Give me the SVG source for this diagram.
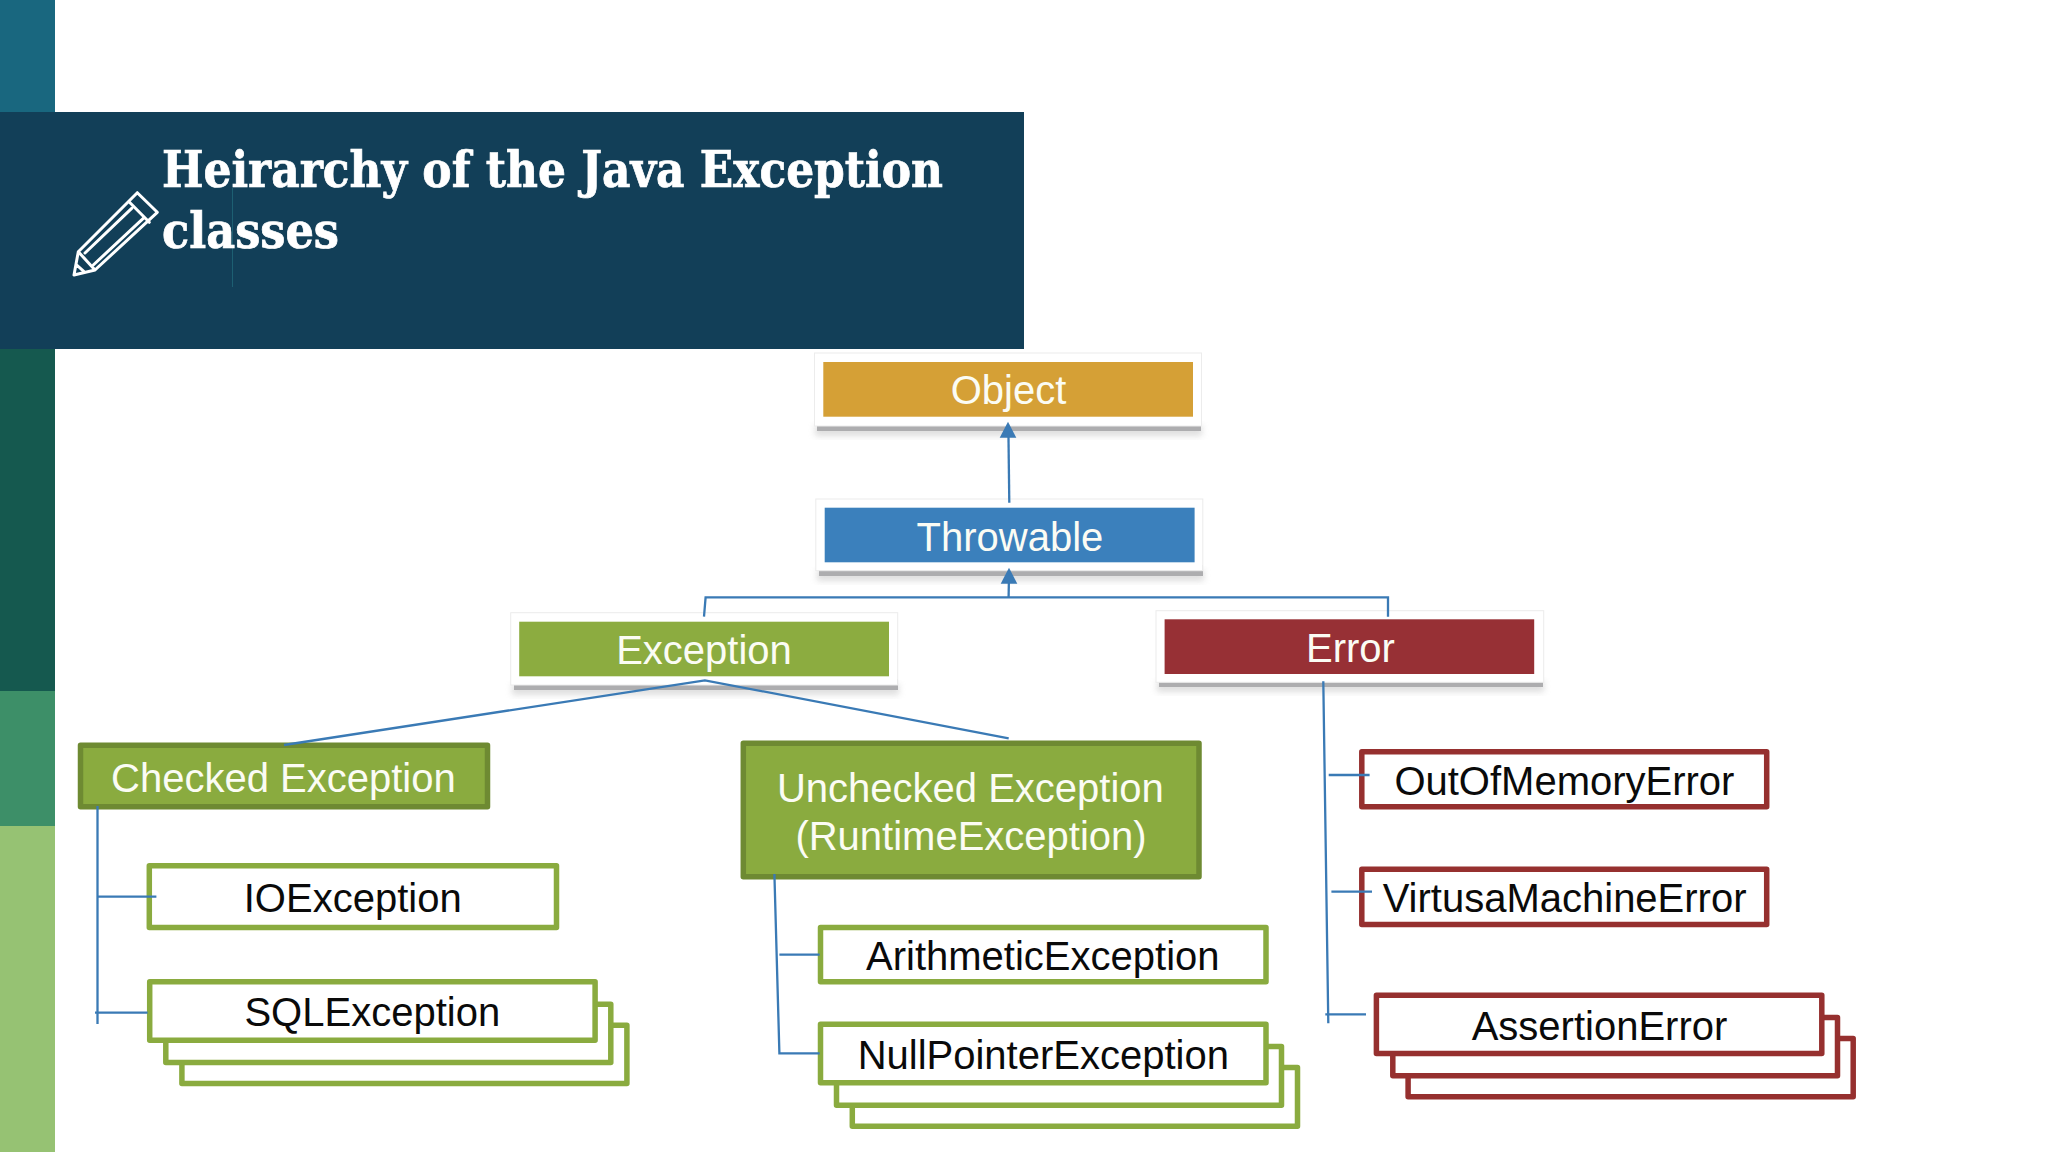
<svg xmlns="http://www.w3.org/2000/svg" width="2048" height="1152" viewBox="0 0 2048 1152">
<style>
.lbl{font-family:"Liberation Sans",Arial,sans-serif;font-size:40px;text-anchor:middle}
.w{fill:#fbfcf4}
.k{fill:#0a0a0a}
.title{font-family:"DejaVu Serif Condensed","DejaVu Serif",serif;font-weight:700;font-size:50px;fill:#fff;stroke:#fff;stroke-width:.7}
.card{fill:#fff;stroke:#ececec;stroke-width:1}
.sh{fill:#adadaf;filter:url(#soft)}
.gl{fill:#c4c4c4;filter:url(#blur);opacity:.55}
.gb{fill:#fff;stroke:#8aab3f;stroke-width:5.5;stroke-linejoin:round}
.rb{fill:#fff;stroke:#96302f;stroke-width:5.5;stroke-linejoin:round}
.gf{fill:#8aab3f;stroke:#6e8a32;stroke-width:5.5;stroke-linejoin:round}
.c{fill:none;stroke:#3a7ab5;stroke-width:2.3}
.ah{fill:#3a7ab5}
.p{fill:none;stroke:#fff;stroke-width:3;stroke-linejoin:round;stroke-linecap:round}
</style>
<defs>
<filter id="blur" x="-5%" y="-30%" width="110%" height="160%"><feGaussianBlur stdDeviation="3"/></filter>
<filter id="soft" x="-2%" y="-20%" width="104%" height="140%"><feGaussianBlur stdDeviation="0.7"/></filter>
</defs>
<rect width="2048" height="1152" fill="#fff"/>
<g id="background">
<rect x="0" y="0" width="55" height="112" fill="#19677f"/>
<rect x="0" y="349" width="55" height="342" fill="#15594f"/>
<rect x="0" y="691" width="55" height="135" fill="#3d8f68"/>
<rect x="0" y="826" width="55" height="326" fill="#96c273"/>
</g>
<g id="header">
<rect x="0" y="112" width="1024" height="237" fill="#123f58"/>
<rect x="232" y="188" width="1" height="99" fill="#1d5f72"/>
<text class="title" x="162" y="187.3" textLength="781" lengthAdjust="spacingAndGlyphs">Heirarchy of the Java Exception</text>
<text class="title" x="162" y="248.3" textLength="177" lengthAdjust="spacingAndGlyphs">classes</text>
<g id="pencil">
<path class="p" d="M78.3 251.7L137.3 192.7L157.3 212.3L95 270ZM78.3 251.7L74 275L95 270M130 202.7L149.3 222.3M131.7 208.3L85 253M143.3 218.3L93.3 265M76.7 265L84 271.7"/>
</g>
</g>
<g id="node-object">
<rect class="gl" x="815" y="425" width="387" height="11"/>
<rect class="sh" x="817" y="420" width="384" height="11"/>
<rect class="card" x="814.5" y="353" width="387" height="73"/>
<rect x="823.3" y="362" width="369.7" height="54.7" fill="#d5a036"/>
<text class="lbl w" x="1008.5" y="404">Object</text>
</g>
<g id="node-throwable">
<rect class="gl" x="817" y="570" width="387" height="11"/>
<rect class="sh" x="819" y="565" width="384" height="11"/>
<rect class="card" x="815.8" y="499" width="387" height="71.7"/>
<rect x="824.7" y="507.7" width="369.9" height="54.6" fill="#3b80bc"/>
<text class="lbl w" x="1010" y="550.5">Throwable</text>
</g>
<g id="node-exception">
<rect class="gl" x="512" y="684" width="387" height="11"/>
<rect class="sh" x="514" y="679" width="384" height="11"/>
<rect class="card" x="510.7" y="612.7" width="387" height="72.3"/>
<rect x="519.2" y="621.7" width="369.8" height="54.6" fill="#8cac40"/>
<text class="lbl w" x="704" y="664">Exception</text>
</g>
<g id="node-error">
<rect class="gl" x="1157" y="681" width="387" height="11"/>
<rect class="sh" x="1159" y="676" width="384" height="11"/>
<rect class="card" x="1156" y="610.7" width="387.7" height="71.6"/>
<rect x="1164.6" y="619.3" width="369.6" height="54.7" fill="#973035"/>
<text class="lbl w" x="1350.5" y="662">Error</text>
</g>
<g id="node-checked">
<rect class="gf" x="80.5" y="745.2" width="407" height="61.6"/>
<text class="lbl w" x="283.4" y="791.5">Checked Exception</text>
</g>
<g id="node-unchecked">
<rect class="gf" x="743.3" y="743.2" width="455.7" height="133.6"/>
<text class="lbl w" x="970.4" y="802">Unchecked Exception</text>
<text class="lbl w" x="971" y="849.5">(RuntimeException)</text>
</g>
<g id="node-ioexception">
<rect class="gb" x="149.3" y="865.8" width="407.2" height="61.7"/>
<text class="lbl k" x="352.7" y="912">IOException</text>
</g>
<g id="node-sqlexception">
<rect class="gb" x="181.9" y="1025.2" width="445" height="58.3"/>
<rect class="gb" x="165.8" y="1004.2" width="445" height="58.3"/>
<rect class="gb" x="149.7" y="981.8" width="445.4" height="58.4"/>
<text class="lbl k" x="372.3" y="1026">SQLException</text>
</g>
<g id="node-arithmetic">
<rect class="gb" x="820.5" y="927.5" width="445.5" height="54.3"/>
<text class="lbl k" x="1042.8" y="969.5">ArithmeticException</text>
</g>
<g id="node-nullpointer">
<rect class="gb" x="852.3" y="1067.5" width="445.2" height="58.7"/>
<rect class="gb" x="836.5" y="1046.5" width="445" height="58.7"/>
<rect class="gb" x="820.5" y="1024.2" width="445.5" height="58.6"/>
<text class="lbl k" x="1043.3" y="1069">NullPointerException</text>
</g>
<g id="node-outofmemory">
<rect class="rb" x="1361.8" y="751.8" width="404.9" height="55"/>
<text class="lbl k" x="1564.4" y="794.5">OutOfMemoryError</text>
</g>
<g id="node-virtual">
<rect class="rb" x="1361.8" y="869.2" width="404.9" height="55.3"/>
<text class="lbl k" x="1564.6" y="912">VirtusaMachineError</text>
</g>
<g id="node-assertion">
<rect class="rb" x="1408.1" y="1038.5" width="445.1" height="58.3"/>
<rect class="rb" x="1392.8" y="1017.5" width="444.7" height="58.3"/>
<rect class="rb" x="1376.4" y="995.2" width="445.4" height="58.3"/>
<text class="lbl k" x="1599.5" y="1039.5">AssertionError</text>
</g>
<g id="connectors">
<path class="c" d="M1009.3 502.7L1008.4 430"/>
<path class="ah" d="M1008 421.7L1016.3 437.7H999.7Z"/>
<path class="c" d="M1008.6 597.3L1009 575"/>
<path class="ah" d="M1009 567.7L1017.3 583.7H1000.7Z"/>
<path class="c" d="M704 616.7L705.6 597.3H1388V616.7"/>
<path class="c" d="M284 745L704.9 680.3L1008.7 738.3"/>
<path class="c" d="M1323.3 681.3L1328.3 1023.3M1328.7 775H1369.6M1331.4 891.7H1372M1325.3 1014.3H1366"/>
<path class="c" d="M97.5 806V1024M97.5 896.7H156.4M95 1012.7H147.6"/>
<path class="c" d="M774.4 874L779.4 1053.3H819.6M779.4 954.7H819.6"/>
</g>
</svg>
